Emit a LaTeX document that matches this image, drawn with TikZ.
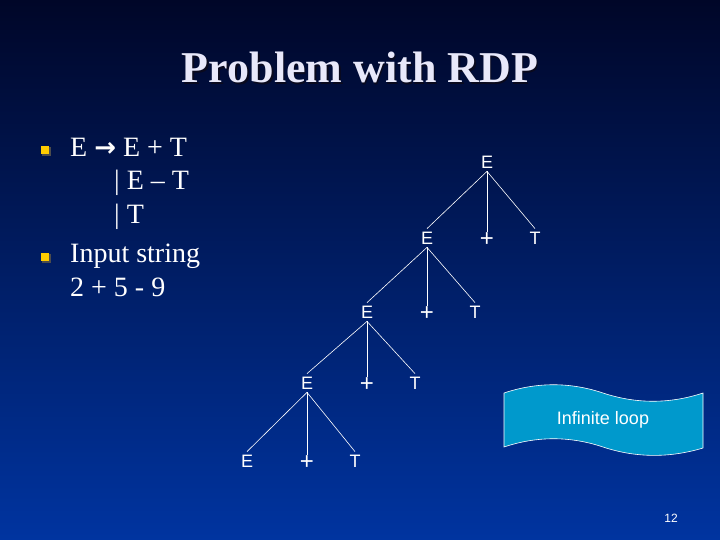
\documentclass[tikz,border=0pt]{standalone}
\usepackage{fontspec}
\setmainfont{Liberation Serif}
\setsansfont{Liberation Sans}
\newfontfamily\arrowfont{DejaVu Sans}
\usetikzlibrary{positioning}
\definecolor{slidetop}{RGB}{0,6,40}
\definecolor{slidemid}{RGB}{0,38,128}
\definecolor{slidebottom}{RGB}{0,52,160}
\definecolor{titlewhite}{RGB}{232,232,250}
\definecolor{titleshadow}{RGB}{10,10,30}
\definecolor{bulletgold}{RGB}{255,204,0}
\definecolor{loopcyan}{RGB}{0,153,204}

\begin{document}
\begin{tikzpicture}[
            x=1pt, y=1pt,
            every node/.style={text=white},
            titletext/.style={font=\fontsize{44}{50}\selectfont\bfseries, text=titlewhite},
            bodytext/.style={font=\fontsize{28}{32}\selectfont, anchor=base west, inner sep=0pt},
            bulletbox/.style={rectangle, fill=bulletgold, minimum size=8.5pt, inner sep=0pt},
            treelbl/.style={font=\sffamily\fontsize{18}{20}\selectfont, inner sep=3pt},
            treeplus/.style={treelbl, font=\sffamily\fontsize{24}{24}\selectfont, inner sep=1pt},
            treeedge/.style={draw=white, line width=0.6pt},
            loopbanner/.style={draw=white, fill=loopcyan, line width=0.6pt},
            looptext/.style={font=\sffamily\fontsize{18}{20}\selectfont},
            pagenum/.style={font=\sffamily\fontsize{12}{14}\selectfont}
        ]

        % slide background
        \shade[top color=slidetop, middle color=slidemid, bottom color=slidebottom] (0,0) rectangle (720,540);
        \useasboundingbox (0,0) rectangle (720,540);

        % title with its shadow
        \node[titletext, text=titleshadow, anchor=base] at (361.5,455.5) {Problem with RDP};
        \node[titletext, anchor=base] (title) at (360,457) {Problem with RDP};

        % bullets and grammar
        \node[bulletbox, fill=black!70] at (46.5,388.5) {};
        \node[bulletbox] (bulletone) at (45,390) {};
        \node[bulletbox, fill=black!70] at (46.5,281.5) {};
        \node[bulletbox] (bullettwo) at (45,283) {};

        \node[bodytext] (ruleone) at (70,383) {E {\arrowfont\bfseries\fontsize{26}{28}\selectfont →} E + T};
        \node[bodytext] (ruletwo) at (114,350) {| E -- T};
        \node[bodytext] (rulethree) at (114,316) {| T};
        \node[bodytext] (inputlbl) at (70,277) {Input string};
        \node[bodytext] (inputval) at (70,243) {2 + 5 - 9};

        % derivation tree
        \begin{scope}[on grid]
        \node[treelbl] (e1) at (487,378) {E};
        \node[treelbl, below left=76 and 60 of e1] (e2) {E};
        \node[treeplus, below=78 of e1] (p2) {+};
        \node[treelbl, right=108 of e2] (t2) {T};
        \node[treelbl, below left=74 and 60 of e2] (e3) {E};
        \node[treeplus, below=76 of e2] (p3) {+};
        \node[treelbl, right=108 of e3] (t3) {T};
        \node[treelbl, below left=71 and 60 of e3] (e4) {E};
        \node[treeplus, below=73 of e3] (p4) {+};
        \node[treelbl, right=108 of e4] (t4) {T};
        \node[treelbl, below left=78 and 60 of e4] (e5) {E};
        \node[treeplus, below=80 of e4] (p5) {+};
        \node[treelbl, right=108 of e5] (t5) {T};
        \end{scope}

        \draw[treeedge] (e1.south) -- (e2.north);
        \draw[treeedge] (e1.south) -- (p2.north);
        \draw[treeedge] (e1.south) -- (t2.north);
        \draw[treeedge] (e2.south) -- (e3.north);
        \draw[treeedge] (e2.south) -- (p3.north);
        \draw[treeedge] (e2.south) -- (t3.north);
        \draw[treeedge] (e3.south) -- (e4.north);
        \draw[treeedge] (e3.south) -- (p4.north);
        \draw[treeedge] (e3.south) -- (t4.north);
        \draw[treeedge] (e4.south) -- (e5.north);
        \draw[treeedge] (e4.south) -- (p5.north);
        \draw[treeedge] (e4.south) -- (t5.north);

        % wavy banner
        \draw[loopbanner] (504,147) .. controls (537,158) and (570,158) .. (603,147)
                                    .. controls (636,136) and (670,136) .. (703,147)
                         -- (703,92) .. controls (670,82) and (636,82) .. (603,93)
                                     .. controls (570,104) and (537,104) .. (504,93) -- cycle;
        \node[looptext] (loop) at (603,120) {Infinite loop};

        \node[pagenum] (page) at (671,22) {12};

        \end{tikzpicture}
\end{document}
